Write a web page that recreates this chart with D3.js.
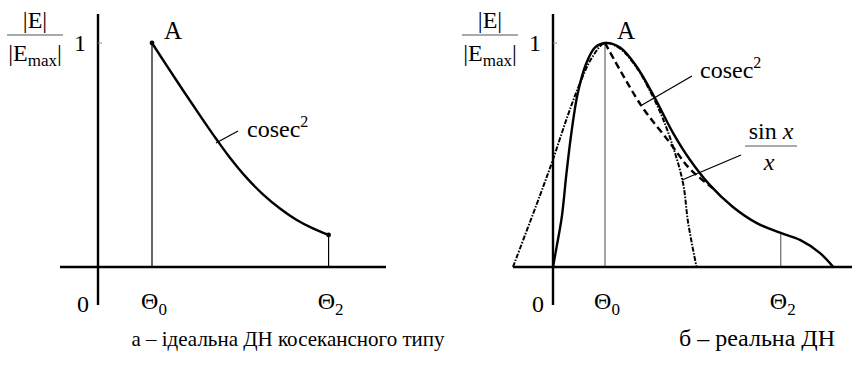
<!DOCTYPE html>
<html>
<head>
<meta charset="utf-8">
<script src="https://cdn.jsdelivr.net/npm/d3@7"></script>
</head>
<body style="margin:0">
<svg id="chart" width="852" height="366" font-family="Liberation Serif"></svg>
<script>
// values: theta in units of Θ0, value = |E|/|Emax|
const idealTheta = [1.0, 1.27, 1.58, 1.89, 2.2, 2.44, 2.75, 3.06, 3.37, 3.68, 3.99, 4.27];
const idealValue = [1.0, 0.90, 0.787, 0.676, 0.568, 0.489, 0.399, 0.323, 0.261, 0.21, 0.171, 0.143];

const realTheta = [0, 0.07, 0.17, 0.26, 0.36, 0.48, 0.65, 0.81, 1.0, 1.29, 1.61, 1.96, 2.31, 2.63, 3.0, 3.46, 3.92, 4.38, 4.75, 5.13, 5.39];
const realValue = [0, 0.09, 0.225, 0.42, 0.61, 0.78, 0.915, 0.98, 1.0, 0.98, 0.894, 0.754, 0.598, 0.48, 0.37, 0.268, 0.196, 0.152, 0.121, 0.063, 0];

const cosecTheta = [1.0, 1.69, 2.25, 2.6, 2.83, 3.08];
const cosecValue = [1.0, 0.723, 0.554, 0.446, 0.397, 0.35];

const sincTheta = [-0.77, -0.25, 0, 0.26, 0.5, 0.75, 1.0, 1.29, 1.61, 1.9, 2.1, 2.31, 2.5, 2.6, 2.76];
const sincValue = [0, 0.32, 0.48, 0.66, 0.81, 0.935, 1.0, 0.975, 0.89, 0.77, 0.67, 0.536, 0.375, 0.196, 0];

const theta2 = { a: 4.27, b: 4.38 };

const svg = d3.select('#chart');

const y = d3.scaleLinear().domain([0, 1]).range([267, 43]);

function zip(xs, ys) { return xs.map((t, i) => [t, ys[i]]); }

function label(g, x, yy, size) {
  return g.append('text')
    .attr('x', x).attr('y', yy)
    .attr('font-family', 'Liberation Serif')
    .attr('font-size', size);
}

const line = (xs) => d3.line().x(d => xs(d[0])).y(d => y(d[1])).curve(d3.curveCatmullRom);

function drawPanel(g, x, opts) {
  // guide lines at Θ0 and Θ2
  g.append('line')
    .attr('x1', x(1)).attr('x2', x(1))
    .attr('y1', y(0)).attr('y2', y(1))
    .attr('stroke', opts.guide).attr('stroke-width', 1.2);
  g.append('line')
    .attr('x1', x(opts.t2)).attr('x2', x(opts.t2))
    .attr('y1', y(0)).attr('y2', y(opts.t2val))
    .attr('stroke', opts.guide).attr('stroke-width', 1.2);

  // axes
  g.append('line')
    .attr('x1', opts.xStart).attr('x2', opts.xEnd)
    .attr('y1', y(0)).attr('y2', y(0))
    .attr('stroke', '#000').attr('stroke-width', 2.6);
  g.append('line')
    .attr('x1', x(0)).attr('x2', x(0))
    .attr('y1', 14).attr('y2', 305)
    .attr('stroke', '#000').attr('stroke-width', 2.4);
  g.append('line')
    .attr('x1', x(0)).attr('x2', x(0) + 4)
    .attr('y1', y(1)).attr('y2', y(1))
    .attr('stroke', '#888').attr('stroke-width', 1);

  // "1" tick label
  label(g, x(0) - 12, y(1) + 8, 24).attr('text-anchor', 'end').text('1');

  // y label |E| / |Emax|
  const lx = x(0) - 63;
  label(g, lx, 28, 24).attr('text-anchor', 'middle').text('|E|');
  g.append('line')
    .attr('x1', lx - 28).attr('x2', lx + 28)
    .attr('y1', 35).attr('y2', 35)
    .attr('stroke', '#555').attr('stroke-width', 1);
  const lt = label(g, lx, 61, 24).attr('text-anchor', 'middle');
  lt.append('tspan').text('|E');
  lt.append('tspan').attr('font-size', 17).attr('dy', 5).text('max');
  lt.append('tspan').attr('dy', -5).text('|');

  // bottom labels
  label(g, x(0) - 9, 312, 24).attr('text-anchor', 'end').text('0');
  [[1, '0'], [opts.t2, '2']].forEach(([t, s]) => {
    const tx = label(g, x(t) + 2, 309, 24).attr('text-anchor', 'middle');
    tx.append('tspan').text('Θ');
    tx.append('tspan').attr('font-size', 17).attr('dy', 6).text(s);
  });

  // point A
  label(g, x(1) + 12, 39, 25).text('A');
}

// ---------- panel a ----------
const xa = d3.scaleLinear().domain([0, 1]).range([98, 152]);
const ga = svg.append('g');
drawPanel(ga, xa, { xStart: 60, xEnd: 386, t2: theta2.a, t2val: idealValue[idealValue.length - 1], guide: '#000' });

ga.append('path')
  .datum(zip(idealTheta, idealValue))
  .attr('d', line(xa))
  .attr('fill', 'none').attr('stroke', '#000').attr('stroke-width', 2.4);
[0, idealTheta.length - 1].forEach(i => {
  ga.append('circle')
    .attr('cx', xa(idealTheta[i])).attr('cy', y(idealValue[i]))
    .attr('r', 2.4).attr('fill', '#000');
});

// cosec² label (left)
ga.append('line')
  .attr('x1', 216).attr('y1', 143).attr('x2', 238).attr('y2', 131)
  .attr('stroke', '#000').attr('stroke-width', 1.3);
const ca = label(ga, 247, 137, 24);
ca.append('tspan').text('cosec');
ca.append('tspan').attr('font-size', 16).attr('dy', -10).text('2');

// ---------- panel б ----------
const xb = d3.scaleLinear().domain([0, 1]).range([553, 605]);
const gb = svg.append('g');
drawPanel(gb, xb, { xStart: 513, xEnd: 852, t2: theta2.b, t2val: 0.152, guide: '#666' });

gb.append('path')
  .datum(zip(sincTheta, sincValue))
  .attr('d', line(xb))
  .attr('fill', 'none').attr('stroke', '#000').attr('stroke-width', 2)
  .attr('stroke-dasharray', '5,1.5,1.5,1.5');

gb.append('path')
  .datum(zip(cosecTheta, cosecValue))
  .attr('d', line(xb))
  .attr('fill', 'none').attr('stroke', '#000').attr('stroke-width', 2.4)
  .attr('stroke-dasharray', '7,4');

gb.append('path')
  .datum(zip(realTheta, realValue))
  .attr('d', line(xb))
  .attr('fill', 'none').attr('stroke', '#000').attr('stroke-width', 2.4);

// cosec² label (right)
gb.append('line')
  .attr('x1', 642).attr('y1', 105).attr('x2', 692).attr('y2', 76)
  .attr('stroke', '#000').attr('stroke-width', 1.3);
const cb = label(gb, 700, 78, 24);
cb.append('tspan').text('cosec');
cb.append('tspan').attr('font-size', 16).attr('dy', -10).text('2');

// sin x / x label
gb.append('line')
  .attr('x1', 682).attr('y1', 180).attr('x2', 741).attr('y2', 155)
  .attr('stroke', '#000').attr('stroke-width', 1.3);
const sn = label(gb, 771, 139, 24).attr('text-anchor', 'middle');
sn.append('tspan').text('sin ');
sn.append('tspan').attr('font-style', 'italic').text('x');
gb.append('line')
  .attr('x1', 745).attr('x2', 797).attr('y1', 146).attr('y2', 146)
  .attr('stroke', '#555').attr('stroke-width', 1);
label(gb, 769, 170, 24).attr('text-anchor', 'middle').attr('font-style', 'italic').text('x');

// captions
label(svg, 288, 346, 21).attr('text-anchor', 'middle').text('а – ідеальна ДН косекансного типу');
label(svg, 757, 346, 24).attr('text-anchor', 'middle').text('б – реальна ДН');
</script>
</body>
</html>
